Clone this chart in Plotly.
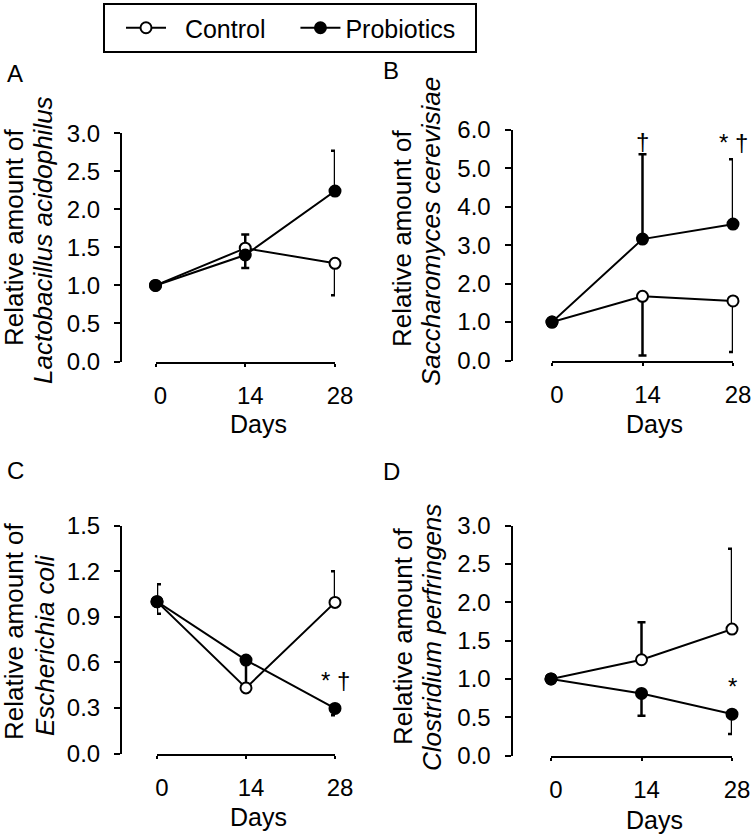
import plotly.graph_objects as go

W, H = 756, 836
FONT = "Liberation Sans, Arial, sans-serif"

days = [0, 14, 28]

# Panel A: Lactobacillus acidophilus
a_ctrl = [1.0, 1.49, 1.29]
a_ctrl_up = [0, 0.18, 0]
a_ctrl_dn = [0, 0, 0.42]
a_prob = [1.0, 1.40, 2.24]
a_prob_up = [0, 0, 0.53]
a_prob_dn = [0, 0.17, 0]

# Panel B: Saccharomyces cerevisiae
b_ctrl = [1.0, 1.67, 1.55]
b_ctrl_up = [0, 0, 0]
b_ctrl_dn = [0, 1.54, 1.33]
b_prob = [1.0, 3.16, 3.55]
b_prob_up = [0, 2.21, 1.69]
b_prob_dn = [0, 0, 0]

# Panel C: Escherichia coli
c_ctrl = [1.0, 0.432, 0.995]
c_ctrl_up = [0.115, 0.17, 0.205]
c_ctrl_dn = [0, 0, 0]
c_prob = [1.0, 0.615, 0.297]
c_prob_up = [0, 0, 0]
c_prob_dn = [0.08, 0, 0.045]

# Panel D: Clostridium perfringens
d_ctrl = [1.0, 1.25, 1.65]
d_ctrl_up = [0, 0.49, 1.05]
d_ctrl_dn = [0, 0, 0]
d_prob = [1.0, 0.81, 0.54]
d_prob_up = [0, 0, 0]
d_prob_dn = [0, 0.29, 0.26]

NB = "\u00a0"
legend_names = [NB * 2 + "Control" + NB, "Probiotics" + NB * 2]

panels = [
    dict(letter="A", species="Lactobacillus acidophilus", ymax=3.0, dtick=0.5,
         ctrl=(a_ctrl, a_ctrl_up, a_ctrl_dn), prob=(a_prob, a_prob_up, a_prob_dn),
         sig=[(28, 3.12, "* †")],
         yx=121, ytop=133.3, ybot=361.5, x0=155.5, x1=335,
         t1=(14, 237), t2=(43, 240), lab=(15, 73), days=(258, 424)),
    dict(letter="B", species="Saccharomyces cerevisiae", ymax=6.0, dtick=1.0,
         ctrl=(b_ctrl, b_ctrl_up, b_ctrl_dn), prob=(b_prob, b_prob_up, b_prob_dn),
         sig=[(14, 5.7, "†"), (28, 5.68, "* †")],
         yx=511.5, ytop=130, ybot=360.5, x0=552, x1=733,
         t1=(402, 238), t2=(431, 232), lab=(391, 71), days=(654, 424)),
    dict(letter="C", species="Escherichia coli", ymax=1.5, dtick=0.3,
         ctrl=(c_ctrl, c_ctrl_up, c_ctrl_dn), prob=(c_prob, c_prob_up, c_prob_dn),
         sig=[(28, 0.48, "* †")],
         yx=121, ytop=525.7, ybot=753.5, x0=157, x1=335,
         t1=(14, 631), t2=(45, 645), lab=(15, 470), days=(258, 817)),
    dict(letter="D", species="Clostridium perfringens", ymax=3.0, dtick=0.5,
         ctrl=(d_ctrl, d_ctrl_up, d_ctrl_dn), prob=(d_prob, d_prob_up, d_prob_dn),
         sig=[(28, 0.9, "*")],
         yx=511.5, ytop=525.7, ybot=755.5, x0=551, x1=732,
         t1=(403, 636), t2=(432, 638), lab=(391, 472), days=(654, 820)),
]

fig = go.Figure()
annotations = []

def px(x):
    return x / W

def py(y):
    return 1 - y / H

def note(x, y, text, size, angle=0, xref="paper", yref="paper"):
    return dict(x=x, y=y, xref=xref, yref=yref, text=text, textangle=angle,
                showarrow=False, xanchor="center", yanchor="middle",
                font=dict(family=FONT, size=size, color="black"))

for i, p in enumerate(panels):
    n = "" if i == 0 else str(i + 1)
    xa, ya = "x" + n, "y" + n
    for j, (key, fill) in enumerate((("ctrl", "white"), ("prob", "black"))):
        vals, up, dn = p[key]
        fig.add_trace(go.Scatter(
            x=days, y=vals, xaxis=xa, yaxis=ya, name=legend_names[j],
            legendgroup=key, showlegend=(i == 0),
            mode="lines+markers", cliponaxis=False,
            line=dict(color="black", width=2),
            marker=dict(symbol="circle", size=11, color=fill,
                        line=dict(color="black", width=2)),
            error_y=dict(type="data", symmetric=False, array=up, arrayminus=dn,
                         color="black", thickness=2.5, width=4),
        ))
    axis_common = dict(showgrid=False, zeroline=False, showline=True,
                       linecolor="black", linewidth=2, ticks="outside",
                       tickcolor="black", tickwidth=2, automargin=False,
                       tickfont=dict(family=FONT, size=24, color="black"))
    fig.update_layout(**{
        ("xaxis" + n): dict(domain=[px(p["x0"]), px(p["x1"])], anchor=ya,
                            range=[0, 28], tickvals=days, ticklen=3,
                            ticklabelshift=5, ticklabelstandoff=9, **axis_common),
        ("yaxis" + n): dict(domain=[py(p["ybot"]), py(p["ytop"])], anchor="free",
                            position=px(p["yx"]), range=[0, p["ymax"]],
                            dtick=p["dtick"], tick0=0, tickformat=".1f", ticklen=6,
                            ticklabelstandoff=9, **axis_common),
    })
    for (sx, sy, st) in p["sig"]:
        annotations.append(note(sx, sy, st, 24, xref=xa, yref=ya))
    annotations.append(note(px(p["lab"][0]), py(p["lab"][1]), p["letter"], 24))
    annotations.append(note(px(p["t1"][0]), py(p["t1"][1]), "Relative amount of", 26, -90))
    annotations.append(note(px(p["t2"][0]), py(p["t2"][1]), "<i>" + p["species"] + "</i>", 26, -90))
    annotations.append(note(px(p["days"][0]), py(p["days"][1]), "Days", 25))

fig.update_layout(
    width=W, height=H, margin=dict(l=0, r=0, t=0, b=0, autoexpand=False),
    paper_bgcolor="white", plot_bgcolor="white",
    annotations=annotations,
    showlegend=True,
    legend=dict(orientation="h", x=px(103), y=py(3), xanchor="left", yanchor="top",
                bordercolor="black", borderwidth=2, bgcolor="white",
                font=dict(family=FONT, size=25, color="black"),
                itemwidth=40, tracegroupgap=0, indentation=18),
)

fig.write_html("out.html", config={"displayModeBar": False},
               post_script="document.body.style.margin='0px';")
